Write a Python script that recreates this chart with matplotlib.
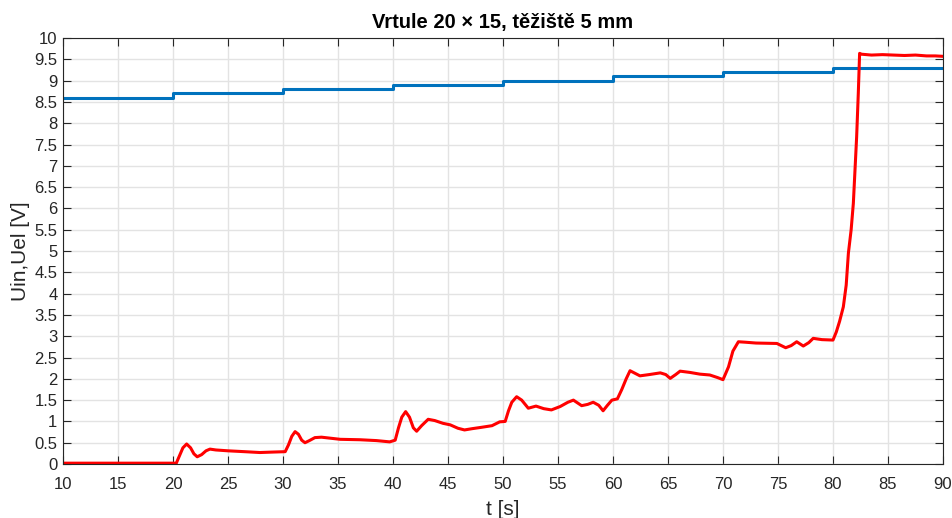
import numpy as np
from matplotlib import pyplot as plt

plt.rcParams['font.family'] = ['Liberation Sans', 'DejaVu Sans']

# input voltage steps (Uin) [s], [V]
t_in = [10, 20, 30, 40, 50, 60, 70, 80, 90]
u_in = [8.6, 8.7, 8.8, 8.9, 9.0, 9.1, 9.2, 9.3, 9.3]

# measured output voltage (Uel) [s], [V]
t_el = [10, 15, 20.3, 20.6, 20.9, 21.24, 21.6, 21.9, 22.2, 22.6, 23.0, 23.36, 23.9, 25.0,
        26.5, 27.9, 29.0, 30.2, 30.5, 30.8, 31.1, 31.4, 31.7, 32.0, 32.4, 32.9, 33.5,
        35.2, 37.0, 38.5, 39.7, 40.2, 40.5, 40.8, 41.15, 41.5, 41.85, 42.15, 42.6, 43.2,
        43.8, 44.55, 45.2, 45.9, 46.5, 47.2, 48.0, 49.0, 49.7, 50.2, 50.5, 50.8, 51.24,
        51.7, 52.3, 53.0, 53.7, 54.4, 55.2, 55.9, 56.4, 57.15, 57.7, 58.2, 58.7, 59.1,
        59.5, 59.9, 60.4, 60.8, 61.2, 61.55, 62.0, 62.45, 63.3, 64.3, 64.8, 65.2, 65.7,
        66.1, 67.0, 67.9, 68.8, 69.5, 70.0, 70.5, 70.9, 71.4, 72.0, 73.0, 74.9, 75.7,
        76.2, 76.7, 77.3, 77.8, 78.2, 79.0, 80.0, 80.3, 80.6, 80.94, 81.2, 81.4, 81.65,
        81.85, 82.0, 82.15, 82.3, 82.42, 82.6, 83.5, 84.5, 85.5, 86.5, 87.5, 88.5, 89.3, 90]
u_el = [0.02, 0.02, 0.02, 0.2, 0.38, 0.47, 0.38, 0.24, 0.17, 0.22, 0.31, 0.35, 0.33, 0.31,
        0.29, 0.27, 0.28, 0.29, 0.45, 0.65, 0.76, 0.7, 0.56, 0.50, 0.55, 0.62, 0.63,
        0.58, 0.57, 0.55, 0.52, 0.56, 0.85, 1.1, 1.23, 1.1, 0.85, 0.77, 0.9, 1.05,
        1.02, 0.955, 0.92, 0.84, 0.80, 0.83, 0.86, 0.9, 0.99, 1.0, 1.25, 1.45, 1.58,
        1.5, 1.31, 1.36, 1.3, 1.27, 1.35, 1.45, 1.50, 1.37, 1.40, 1.45, 1.38, 1.25,
        1.38, 1.50, 1.53, 1.75, 2.0, 2.19, 2.13, 2.07, 2.1, 2.14, 2.1, 2.01, 2.1,
        2.18, 2.15, 2.11, 2.09, 2.03, 1.98, 2.28, 2.65, 2.87, 2.86, 2.84, 2.83, 2.73,
        2.78, 2.87, 2.77, 2.85, 2.95, 2.92, 2.91, 3.1, 3.35, 3.69, 4.2, 4.95, 5.5,
        6.12, 6.9, 7.68, 8.7, 9.64, 9.62, 9.60, 9.61, 9.60, 9.59, 9.60, 9.58, 9.58, 9.57]

fig = plt.figure(figsize=(9.53, 5.18), dpi=100)
ax = fig.add_axes([0.0661, 0.1042, 0.9234, 0.8224])

ax.plot(t_in, u_in, drawstyle='steps-post', color='#0072BD', linewidth=2.2)
ax.plot(t_el, u_el, color='#FF0000', linewidth=2.2)

ax.set_xlim(10, 90)
ax.set_ylim(0, 10)
ax.set_xticks(np.arange(10, 91, 5))
ax.set_yticks(np.arange(0, 10.01, 0.5))
ax.set_yticklabels(['%g' % v for v in np.arange(0, 10.01, 0.5)])

ax.grid(True, color='#E3E3E3', linewidth=1.0)
ax.set_axisbelow(True)
ax.tick_params(direction='in', top=True, right=True, length=6, width=0.8,
               labelsize=12, colors='#262626')
ax.tick_params(axis='x', pad=9)
ax.tick_params(axis='y', pad=4)
for side in ax.spines.values():
    side.set_color('#262626')
    side.set_linewidth(0.8)

ax.set_xlabel('t [s]', fontsize=15, color='#262626', labelpad=6)
ax.set_ylabel('Uin,Uel [V]', fontsize=15, color='#262626', labelpad=3)
ax.set_title('Vrtule 20 × 15, těžiště 5 mm', fontsize=14.5, fontweight='bold', color='#000000', pad=7)

plt.savefig('out.png', dpi=100)
